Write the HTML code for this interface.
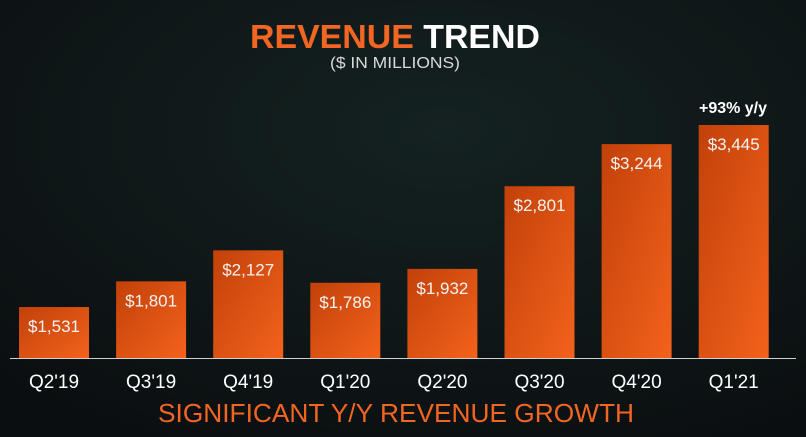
<!DOCTYPE html>
<html><head><meta charset="utf-8"><style>
html,body{margin:0;padding:0;width:806px;height:437px;overflow:hidden;background:#0f1416;font-family:"Liberation Sans",sans-serif}
</style></head><body>
<svg id="chart" width="806" height="437" xmlns="http://www.w3.org/2000/svg">
<defs>
<radialGradient id="bg" cx="0.55" cy="0.3" r="0.8"><stop offset="0" stop-color="#142221"/><stop offset="1" stop-color="#0b0e10"/></radialGradient>
<linearGradient id="barg" x1="0" y1="0" x2="1" y2="1"><stop offset="0" stop-color="#c2410a"/><stop offset="1" stop-color="#f3621b"/></linearGradient>
</defs>
<rect width="806" height="437" fill="url(#bg)"/>
<text x="395" y="48" text-anchor="middle" font-size="33" font-weight="bold" textLength="290" lengthAdjust="spacingAndGlyphs"><tspan fill="#f26522">REVENUE</tspan><tspan fill="#ffffff"> TREND</tspan></text>
<text x="395" y="68" text-anchor="middle" font-size="16" fill="#d8d8d8" textLength="130" lengthAdjust="spacingAndGlyphs">($ IN MILLIONS)</text>
<line x1="10" y1="358.5" x2="796" y2="358.5" stroke="#cfcfcf" stroke-width="1"/>
<text x="733" y="113" text-anchor="middle" font-size="16" font-weight="bold" fill="#ffffff">+93% y/y</text>
<text x="396" y="422" text-anchor="middle" font-size="26" fill="#f26522" textLength="476" lengthAdjust="spacingAndGlyphs">SIGNIFICANT Y/Y REVENUE GROWTH</text>
<g id="bars"></g>
</svg>
<script>
const categories=["Q2'19","Q3'19","Q4'19","Q1'20","Q2'20","Q3'20","Q4'20","Q1'21"];
const revenue=[1531,1801,2127,1786,1932,2801,3244,3445];
const valueLabels=["$1,531","$1,801","$2,127","$1,786","$1,932","$2,801","$3,244","$3,445"];
const yMin=995, yMax=3445;
const baseY=358, topY=125;
function y(v){return baseY-(v-yMin)/(yMax-yMin)*(baseY-topY);}
function x(i){return 19+i*97.1;}
const ns="http://www.w3.org/2000/svg";
const g=document.getElementById('bars');
categories.forEach((c,i)=>{
  const r=document.createElementNS(ns,'rect');
  r.setAttribute('x',x(i));r.setAttribute('width',70);
  r.setAttribute('y',y(revenue[i]));r.setAttribute('height',baseY-y(revenue[i]));
  r.setAttribute('fill','url(#barg)');
  
  
  g.appendChild(r);
  const t=document.createElementNS(ns,'text');
  t.setAttribute('x',x(i)+35);t.setAttribute('y',y(revenue[i])+25);
  t.setAttribute('text-anchor','middle');t.setAttribute('font-size','17');t.setAttribute('fill','#f4f4f4');
  t.textContent=valueLabels[i];
  
  
  g.appendChild(t);
  const l=document.createElementNS(ns,'text');
  l.setAttribute('x',x(i)+35);l.setAttribute('y',388);
  l.setAttribute('text-anchor','middle');l.setAttribute('font-size','19');l.setAttribute('fill','#ffffff');
  l.textContent=c;
  
  
  g.appendChild(l);
});
</script>
</body></html>
